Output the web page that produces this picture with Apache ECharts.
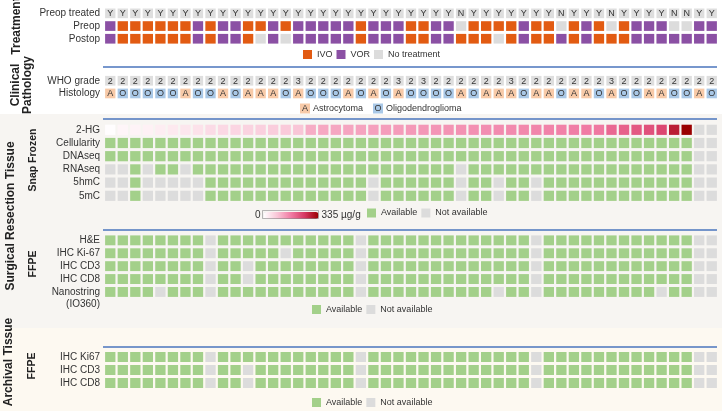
<!DOCTYPE html>
<html><head><meta charset="utf-8">
<script src="https://cdn.jsdelivr.net/npm/echarts@6/dist/echarts.min.js"></script>
<style>html,body{margin:0;padding:0;background:#fff}#c{width:722px;height:411px}</style>
</head><body><div id="c"></div>
<script>
// ---------------- DATA ----------------
const caseIds = ['P1','P2','P3','P4','P5','P6','P7','P8','P9','P10','P11','P12','P13','P14','P15','P16','P17','P18','P19','P20','P21','P22','P23','P24','P25','P26','P27','P28','P29','P30','P31','P32','P33','P34','P35','P36','P37','P38','P39','P40','P41','P42','P43','P44','P45','P46','P47','P48','P49'];

const treatmentRows = ['Preop treated','Preop','Postop'];
const preopTreated = ['Y','Y','Y','Y','Y','Y','Y','Y','Y','Y','Y','Y','Y','Y','Y','Y','Y','Y','Y','Y','Y','Y','Y','Y','Y','Y','Y','Y','N','Y','Y','Y','Y','Y','Y','Y','N','Y','Y','Y','N','Y','Y','Y','Y','N','N','Y','Y'];
// I = IVO, V = VOR, - = no treatment
const preop  = ['V','I','I','I','I','I','I','V','I','V','V','I','I','V','I','V','V','V','V','V','I','V','V','V','I','I','V','V','-','I','I','I','I','V','I','I','-','I','V','I','-','I','V','V','V','-','-','V','V'];
const postop = ['V','I','I','I','I','I','I','V','I','V','V','I','-','V','-','V','V','V','V','V','I','V','V','V','I','I','V','V','I','I','I','-','I','V','I','I','V','I','V','I','I','I','V','V','V','V','V','V','V'];

const clinicalRows = ['WHO grade','Histology'];
const whoGrade = ['2','2','2','2','2','2','2','2','2','2','2','2','2','2','2','3','2','2','2','2','2','2','2','3','2','3','2','2','2','2','2','2','3','2','2','2','2','2','2','2','3','2','2','2','2','2','2','2','2'];
const histology = ['A','O','O','O','O','O','A','O','O','A','O','A','A','A','O','A','O','O','O','A','O','A','O','A','O','O','O','O','A','O','A','A','A','O','A','A','O','A','A','O','A','O','O','A','A','O','O','A','O'];

const snapRows = ['2-HG','Cellularity','DNAseq','RNAseq','5hmC','5mC'];
const hg2 = [3,14,17,20,26,32,36,42,52,56,60,64,68,72,76,82,112,116,118,120,122,125,128,130,133,135,137,139,141,143,145,148,150,152,155,158,160,163,166,170,190,198,210,218,232,290,335,null,null];
const cellularity = [1,1,1,1,1,1,1,1,1,1,1,1,1,1,1,1,1,1,1,1,1,1,1,1,1,1,1,1,1,1,1,1,1,1,1,1,1,1,1,1,1,1,1,1,1,1,1,0,0];
const dnaseq      = [1,1,1,1,1,1,1,1,1,1,1,1,1,1,1,1,1,1,1,1,1,1,1,1,1,1,1,1,1,1,1,1,1,1,1,1,1,1,1,1,1,1,1,1,1,1,1,0,0];
const rnaseq      = [0,0,1,0,1,1,0,1,1,1,1,1,1,1,1,1,1,1,1,1,1,1,1,1,1,1,1,1,0,1,1,1,1,1,1,1,1,1,1,1,1,1,1,1,1,1,1,0,0];
const hmc5        = [0,0,1,0,0,0,0,0,1,1,1,1,1,1,1,1,1,1,1,1,1,0,1,1,1,1,1,1,0,1,1,0,1,1,0,1,1,1,1,1,1,1,1,1,1,1,1,0,0];
const mc5         = [0,0,1,0,0,0,0,0,1,1,1,1,1,1,1,1,1,1,1,1,1,0,1,1,1,1,1,1,0,1,1,0,1,1,0,1,1,1,1,1,1,1,1,1,1,1,1,0,0];

const ffpeRows = ['H&E','IHC Ki-67','IHC CD3','IHC CD8','Nanostring'];
const he     = [1,1,1,1,1,1,1,1,0,1,1,1,1,1,1,1,1,1,1,1,0,1,1,1,1,1,1,1,1,1,1,1,1,1,0,1,1,1,1,1,1,1,1,1,1,1,1,0,0];
const ki67   = [1,1,1,1,1,1,1,1,0,1,1,1,1,1,0,1,1,1,1,1,0,1,1,1,1,1,1,1,1,1,1,1,1,1,0,1,1,1,1,1,1,1,1,1,1,1,1,0,0];
const cd3    = [1,1,1,1,1,1,1,1,0,1,1,0,1,1,1,1,1,1,1,1,0,1,1,1,1,1,1,1,1,1,1,1,1,1,0,1,1,1,1,1,1,1,1,1,1,1,1,0,0];
const cd8    = [1,1,1,1,1,1,1,1,0,1,1,0,1,1,1,1,1,1,1,1,0,1,1,1,1,1,1,1,1,1,1,1,1,1,0,1,1,1,1,1,1,1,1,1,1,1,1,0,0];
const nano   = [1,1,1,1,0,1,1,1,0,1,1,1,1,1,1,1,1,1,1,1,0,1,1,1,1,1,1,1,1,1,1,0,1,1,0,1,1,1,1,1,1,1,1,1,0,1,1,0,0];

const archRows = ['IHC Ki67','IHC CD3','IHC CD8'];
const aKi67  = [1,1,1,1,1,1,1,1,0,1,1,1,1,1,1,1,1,1,1,1,0,1,1,1,1,1,1,1,1,1,1,1,1,1,0,1,1,1,1,1,1,1,1,1,1,1,1,0,0];
const aCd3   = [1,1,1,1,1,1,1,1,0,1,1,0,1,1,1,1,1,1,1,1,0,1,1,1,1,1,1,1,1,1,1,1,1,1,0,1,1,1,1,1,1,1,1,1,1,1,1,0,0];
const aCd8   = [1,1,1,1,1,1,1,1,0,1,1,0,1,1,1,1,1,1,1,1,0,1,1,1,1,1,1,1,1,1,1,1,1,1,0,1,1,1,1,1,1,1,1,1,1,1,1,0,0];

const hgMin = 0, hgMax = 335;

// ---------------- STYLE ----------------
const FONT = 'Liberation Sans';
const GREEN = '#a3d08a', GRAY = '#dcdcdc', ORANGE = '#e25b12', PURPLE = '#8b50a4',
      PEACH = '#f8caa8', LBLUE = '#a9c8e7', CELL = '#dedede', TXT = '#333333', LINE = '#4a74bd';

function cellSeries(gi, rows, colorOf, textOf, extra) {
  const data = [];
  rows.forEach((arr, r) => arr.forEach((v, c) => data.push([c, r, v])));
  return Object.assign({
    type: 'custom', xAxisIndex: gi, yAxisIndex: gi, data: data,
    encode: { x: 0, y: 1 }, silent: true,
    renderItem: function (params, api) {
      const raw = data[params.dataIndex][2];
      const p = api.coord([api.value(0), api.value(1)]);
      const s = api.size([1, 1]);
      const w = s[0] - 2.2, h = s[1] - 3;
      const kids = [{ type: 'rect', shape: { x: p[0] - w / 2, y: p[1] - h / 2, width: w, height: h },
        style: { fill: colorOf(raw, api) } }];
      const t = textOf ? textOf(raw) : null;
      if (t) kids.push({ type: 'text', style: { text: t, x: p[0], y: p[1] + 0.5,
        textAlign: 'center', textVerticalAlign: 'middle', align: 'center', verticalAlign: 'middle',
        fill: TXT, font: '9px "Liberation Sans", Arial, sans-serif' } });
      return { type: 'group', children: kids };
    }
  }, extra || {});
}

const availColor = v => v ? GREEN : GRAY;
const trtColor = v => v === 'I' ? ORANGE : v === 'V' ? PURPLE : GRAY;

const grids = [
  { top: 7,     height: 38.1 },
  { top: 74.4,  height: 25.4 },
  { top: 123.2, height: 79.2 },
  { top: 233.9, height: 64.5 },
  { top: 350.5, height: 39 }
].map(g => Object.assign({ left: 104, right: 4 }, g));

const rowSets = [treatmentRows, clinicalRows, snapRows, ffpeRows, archRows];

const xAxes = grids.map((g, i) => ({ type: 'category', gridIndex: i, data: caseIds, show: false }));
const yAxes = rowSets.map((rows, i) => ({
  type: 'category', gridIndex: i, data: rows, inverse: true,
  axisLine: { show: false }, axisTick: { show: false }, splitLine: { show: false },
  axisLabel: { interval: 0, fontSize: 10, color: TXT, fontFamily: FONT, margin: 4 }
}));

const series = [
  cellSeries(0, [preopTreated], () => CELL, v => v),
  cellSeries(0, [[], preop, postop], trtColor, null),
  cellSeries(1, [whoGrade], () => CELL, v => v),
  cellSeries(1, [[], histology], v => v === 'A' ? PEACH : LBLUE, v => v),
  cellSeries(2, [hg2], (v, api) => v == null ? GRAY : api.visual('color'), null),
  cellSeries(2, [[], cellularity, dnaseq, rnaseq, hmc5, mc5], availColor, null),
  cellSeries(3, [he, ki67, cd3, cd8, nano], availColor, null),
  cellSeries(4, [aKi67, aCd3, aCd8], availColor, null)
];
const HG_INDEX = 4;
// legend-only series
[['IVO', ORANGE], ['VOR', PURPLE], ['No treatment', GRAY], ['Available', GREEN], ['Not available', GRAY]]
  .forEach(([n, c]) => series.push({ type: 'custom', name: n, data: [], xAxisIndex: 0, yAxisIndex: 0,
    itemStyle: { color: c }, renderItem: () => null }));

const legendBase = { orient: 'horizontal', icon: 'rect', itemWidth: 9, itemHeight: 9, itemGap: 4,
  padding: 0, selectedMode: false, textStyle: { fontSize: 9, color: TXT, fontFamily: FONT } };
const legends = [
  Object.assign({}, legendBase, { data: ['IVO', 'VOR', 'No treatment'], left: 303, top: 50 }),
  Object.assign({}, legendBase, { data: ['Available', 'Not available'], left: 367, top: 208.5 }),
  Object.assign({}, legendBase, { data: ['Available', 'Not available'], left: 312, top: 305 }),
  Object.assign({}, legendBase, { data: ['Available', 'Not available'], left: 312, top: 398 })
];

function vtext(txt, x, y, size, weight) {
  return { type: 'text', x: x, y: y, rotation: Math.PI / 2,
    style: { text: txt, textAlign: 'center', textVerticalAlign: 'middle', align: 'center', verticalAlign: 'middle',
      fill: '#222', font: (weight || 'bold') + ' ' + size + 'px "Liberation Sans", Arial, sans-serif' } };
}
function hline(y) {
  return { type: 'line', shape: { x1: 103, y1: y, x2: 717, y2: y }, style: { stroke: LINE, lineWidth: 1.5 } };
}
function boxLabel(ch, fill, x, y, label) {
  return [
    { type: 'rect', shape: { x: x, y: y - 5, width: 10, height: 10 }, style: { fill: fill } },
    { type: 'text', style: { text: ch, x: x + 5, y: y + 0.5, textAlign: 'center', textVerticalAlign: 'middle', align: 'center', verticalAlign: 'middle', fill: TXT, font: '9px "Liberation Sans", Arial, sans-serif' } },
    { type: 'text', style: { text: label, x: x + 13, y: y + 0.5, textAlign: 'left', textVerticalAlign: 'middle', verticalAlign: 'middle', fill: TXT, font: '9px "Liberation Sans", Arial, sans-serif' } }
  ];
}

const graphics = [
  { type: 'rect', z: -10, shape: { x: 0, y: 114, width: 722, height: 214 }, style: { fill: '#f7f5f2' } },
  { type: 'rect', z: -10, shape: { x: 0, y: 328, width: 722, height: 83 }, style: { fill: '#fdf9f1' } },
  hline(67), hline(119), hline(230), hline(347),
  vtext('Treatment', 17, 26, 12),
  vtext('Clinical\nPathology', 22, 85, 12),
  vtext('Surgical Resection Tissue', 11, 216, 12),
  vtext('Snap Frozen', 33, 160, 10.5),
  vtext('FFPE', 33, 264, 10.5),
  vtext('Archival Tissue', 9, 362, 12),
  vtext('FFPE', 32, 366, 10.5),
  { type: 'rect', shape: { x: 262.5, y: 210.5, width: 56, height: 8 }, style: { fill: 'none', stroke: '#888', lineWidth: 0.6 }, z: 100 },
  { type: 'text', style: { text: '(IO360)', x: 100, y: 304, textAlign: 'right', textVerticalAlign: 'middle', align: 'right', verticalAlign: 'middle', fill: TXT, font: '10px "Liberation Sans", Arial, sans-serif' } }
].concat(boxLabel('A', PEACH, 300, 108.5, 'Astrocytoma'), boxLabel('O', LBLUE, 373, 108.5, 'Oligodendroglioma'));

const chart = echarts.init(document.getElementById('c'), null, { renderer: 'canvas' });
chart.setOption({
  backgroundColor: '#ffffff',
  animation: false,
  textStyle: { fontFamily: FONT },
  grid: grids, xAxis: xAxes, yAxis: yAxes,
  series: series,
  legend: legends,
  visualMap: {
    type: 'continuous', seriesIndex: HG_INDEX, dimension: 2, min: hgMin, max: hgMax,
    orient: 'horizontal', left: 255, top: 210.5, itemWidth: 7, itemHeight: 55, textGap: 3,
    text: ['335 µg/g', '0'], calculable: false, hoverLink: false, padding: 0,
    inRange: { color: ['#ffffff', '#f9c5d6', '#f07aa3', '#d63862', '#9a0000'] },
    textStyle: { fontSize: 10, color: TXT, fontFamily: FONT }
  },
  graphic: graphics
});
</script>
</body></html>
